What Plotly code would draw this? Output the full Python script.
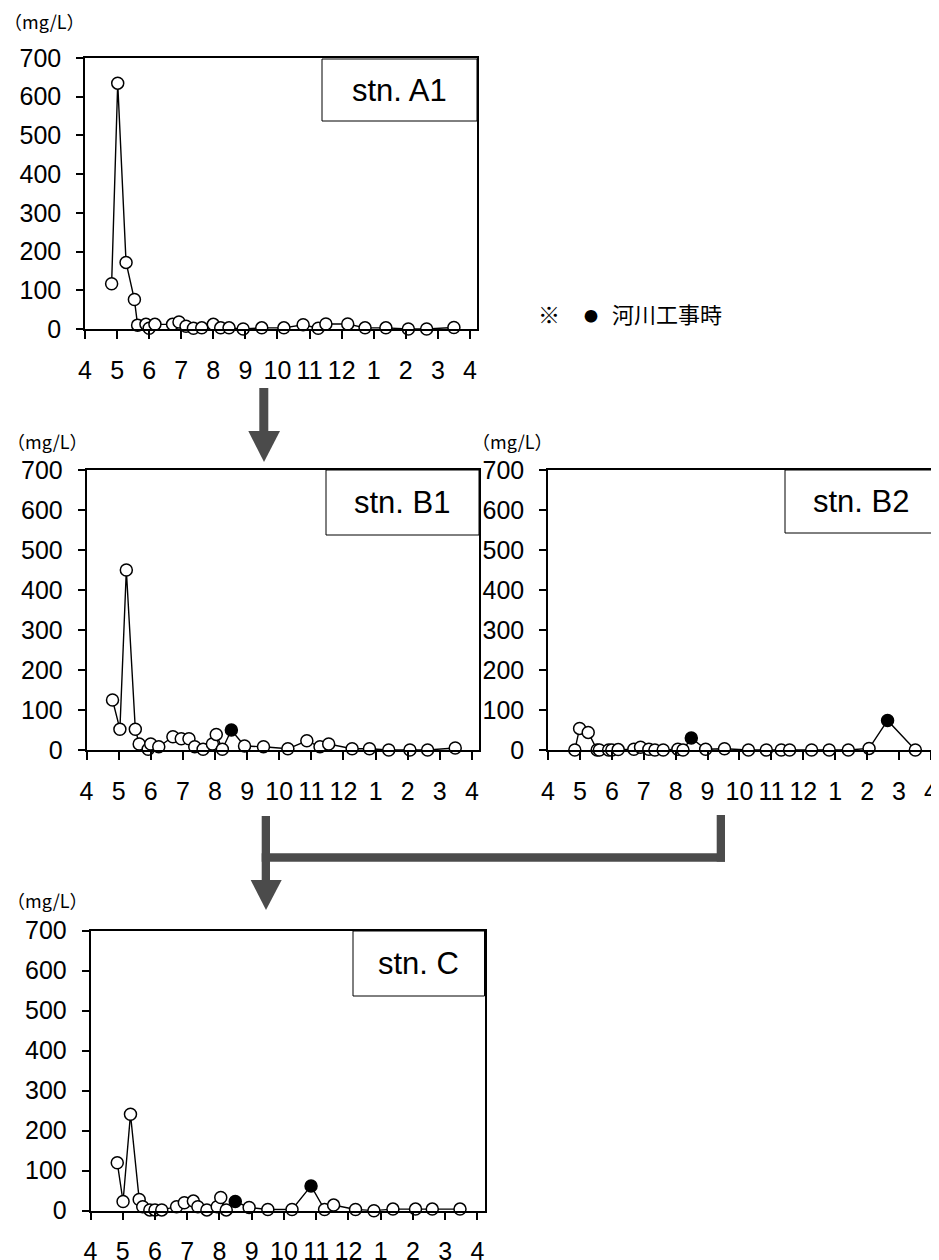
import plotly.graph_objects as go

# the page places the figure 8 px from the window's top-left corner
OFF = 8
W, H = 939 - OFF, 1260 - OFF

# ---------------- data (x = months since 1 April, y = mg/L) ----------------
month_ticks = list(range(13))
month_labels = ["4", "5", "6", "7", "8", "9", "10", "11", "12", "1", "2", "3", "4"]
y_ticks = [0, 100, 200, 300, 400, 500, 600, 700]

a1_x = [0.83, 1.02, 1.28, 1.54, 1.64, 1.90, 2.00, 2.18, 2.73, 2.93, 3.15, 3.38, 3.64, 4.00,
        4.23, 4.49, 4.93, 5.51, 6.20, 6.80, 7.27, 7.51, 8.19, 8.73, 9.38, 10.08, 10.65, 11.50]
a1_y = [117, 635, 172, 76, 10, 12, 2, 12, 12, 18, 7, 2, 3, 12,
        3, 3, 0, 3, 3, 11, 2, 13, 13, 3, 3, 0, 0, 4]
a1_work = [0] * len(a1_x)

b1_x = [0.81, 1.04, 1.24, 1.52, 1.64, 1.92, 2.00, 2.25, 2.69, 2.95, 3.19, 3.37, 3.63, 3.92,
        4.04, 4.23, 4.51, 4.92, 5.51, 6.27, 6.86, 7.27, 7.54, 8.27, 8.81, 9.41, 10.07, 10.62, 11.48]
b1_y = [125, 52, 450, 52, 15, 2, 15, 8, 33, 28, 28, 8, 2, 15,
        39, 2, 50, 10, 8, 3, 23, 8, 15, 3, 3, 0, 0, 0, 5]
b1_work = [0] * 16 + [1] + [0] * 12

b2_x = [0.84, 0.99, 1.26, 1.54, 1.61, 1.90, 2.00, 2.20, 2.69, 2.90, 3.16, 3.35, 3.61, 4.07,
        4.23, 4.49, 4.94, 5.53, 6.28, 6.84, 7.31, 7.57, 8.26, 8.81, 9.41, 10.06, 10.64, 11.51]
b2_y = [0, 54, 44, 0, 0, 0, 0, 1, 2, 7, 2, 0, 0, 2,
        0, 30, 2, 3, 0, 0, 0, 0, 0, 0, 0, 4, 74, 0]
b2_work = [0] * 15 + [1] + [0] * 10 + [1] + [0]

c_x = [0.83, 1.01, 1.24, 1.51, 1.62, 1.84, 2.00, 2.21, 2.67, 2.91, 3.19, 3.33, 3.61, 3.93,
       4.04, 4.21, 4.49, 4.92, 5.50, 6.25, 6.84, 7.26, 7.54, 8.22, 8.79, 9.38, 10.08, 10.60, 11.46]
c_y = [120, 23, 241, 28, 10, 2, 2, 2, 10, 20, 24, 10, 2, 10,
       33, 2, 23, 8, 3, 3, 62, 3, 14, 3, 0, 4, 4, 4, 4]
c_work = [0] * 16 + [1] + [0] * 3 + [1] + [0] * 8

stations = [
    ("stn. A1", a1_x, a1_y, a1_work),
    ("stn. B1", b1_x, b1_y, b1_work),
    ("stn. B2", b2_x, b2_y, b2_work),
    ("stn. C", c_x, c_y, c_work),
]

# ---------------- layout geometry (window pixels) ----------------
panels = [
    (85, 477, 58, 329),
    (86.5, 479, 470, 750),
    (548, 938, 470, 750),
    (90.5, 484.5, 930.7, 1210.7),
]
boxes = [
    (322, 477, 59, 121),
    (326, 479, 470, 535),
    (785, 938, 470, 533),
    (353, 484.5, 931, 996),
]
unit_pos = [(44, 21), (47, 441), (512, 441), (47, 900)]

def PX(x):
    return (x - OFF) / W

def PY(y):
    return 1 - (y - OFF) / H

FONT = "Liberation Sans, Arial, sans-serif"
CJK = "Noto Sans CJK JP, sans-serif"
ARROW = "#4b4b4b"

fig = go.Figure()
layout = dict(
    width=W, height=H,
    margin=dict(l=0, r=0, t=0, b=0, autoexpand=False),
    paper_bgcolor="white", plot_bgcolor="white",
    showlegend=False,
    font=dict(family=FONT, color="black"),
)
shapes = []
annotations = []

for i, ((name, xs, ys, work), (l, r, t, b), box, up) in enumerate(zip(stations, panels, boxes, unit_pos)):
    k = "" if i == 0 else str(i + 1)
    fig.add_trace(go.Scatter(
        x=xs, y=ys, mode="lines+markers",
        line=dict(color="black", width=1.4),
        marker=dict(size=12, symbol="circle",
                    color=["black" if w else "white" for w in work],
                    line=dict(color="black", width=1.5)),
        xaxis="x" + k, yaxis="y" + k, cliponaxis=False,
    ))
    layout["xaxis" + k] = dict(
        domain=[PX(l), PX(r)], range=[0, 12.22], anchor="y" + k, automargin=False,
        tickmode="array", tickvals=month_ticks, ticktext=month_labels,
        ticks="outside", ticklen=8, tickwidth=1.5, tickcolor="black",
        showline=True, linecolor="black", linewidth=1.5, mirror=True,
        showgrid=False, zeroline=False,
        tickfont=dict(family=FONT, size=25, color="black"),
        ticklabelstandoff=10,
    )
    layout["yaxis" + k] = dict(
        domain=[PY(b), PY(t)], range=[0, 700], anchor="x" + k, automargin=False,
        tickmode="array", tickvals=y_ticks,
        ticks="outside", ticklen=7, tickwidth=1.5, tickcolor="black",
        showline=True, linecolor="black", linewidth=1.5, mirror=True,
        showgrid=False, zeroline=False,
        tickfont=dict(family=FONT, size=25, color="black"),
        ticklabelstandoff=10,
    )
    bl, br, bt, bb = box
    shapes.append(dict(type="rect", xref="paper", yref="paper",
                       x0=PX(bl), x1=PX(br), y0=PY(bb), y1=PY(bt),
                       line=dict(color="black", width=1), fillcolor="white", layer="above"))
    annotations.append(dict(xref="paper", yref="paper", x=PX((bl + br) / 2), y=PY((bt + bb) / 2),
                            text=name, showarrow=False, xanchor="center", yanchor="middle",
                            font=dict(family=FONT, size=31, color="black")))
    annotations.append(dict(xref="paper", yref="paper", x=PX(up[0]), y=PY(up[1]),
                            text="（mg/L）", showarrow=False, xanchor="center", yanchor="middle",
                            font=dict(family=CJK, size=18, color="black")))

# legend note
annotations.append(dict(xref="paper", yref="paper", x=PX(549), y=PY(313), text="※",
                        showarrow=False, xanchor="center", yanchor="middle",
                        font=dict(family=CJK, size=22, color="black")))
annotations.append(dict(xref="paper", yref="paper", x=PX(591), y=PY(315), text="●",
                        showarrow=False, xanchor="center", yanchor="middle",
                        font=dict(family=CJK, size=14, color="black")))
annotations.append(dict(xref="paper", yref="paper", x=PX(610), y=PY(313), text="河川工事時",
                        showarrow=False, xanchor="left", yanchor="middle",
                        font=dict(family=CJK, size=22, color="black")))

# flow arrows
def rect(x0, x1, y0, y1):
    shapes.append(dict(type="rect", xref="paper", yref="paper",
                       x0=PX(x0), x1=PX(x1), y0=PY(y1), y1=PY(y0),
                       line=dict(width=0), fillcolor=ARROW, layer="above"))

def tri(xl, xr, ytop, xtip, ytip):
    path = "M {} {} L {} {} L {} {} Z".format(PX(xl), PY(ytop), PX(xr), PY(ytop), PX(xtip), PY(ytip))
    shapes.append(dict(type="path", xref="paper", yref="paper", path=path,
                       line=dict(width=0), fillcolor=ARROW, layer="above"))

rect(259.3, 268.3, 388, 432)
tri(248.3, 280, 431, 264, 462)
rect(261.7, 270, 816, 881)
rect(261.7, 725, 853.3, 861.7)
rect(716.7, 725, 815, 861.7)
tri(250.7, 281.7, 880, 266, 910)

layout["shapes"] = shapes
layout["annotations"] = annotations
fig.update_layout(**layout)
fig.write_html("out.html")
